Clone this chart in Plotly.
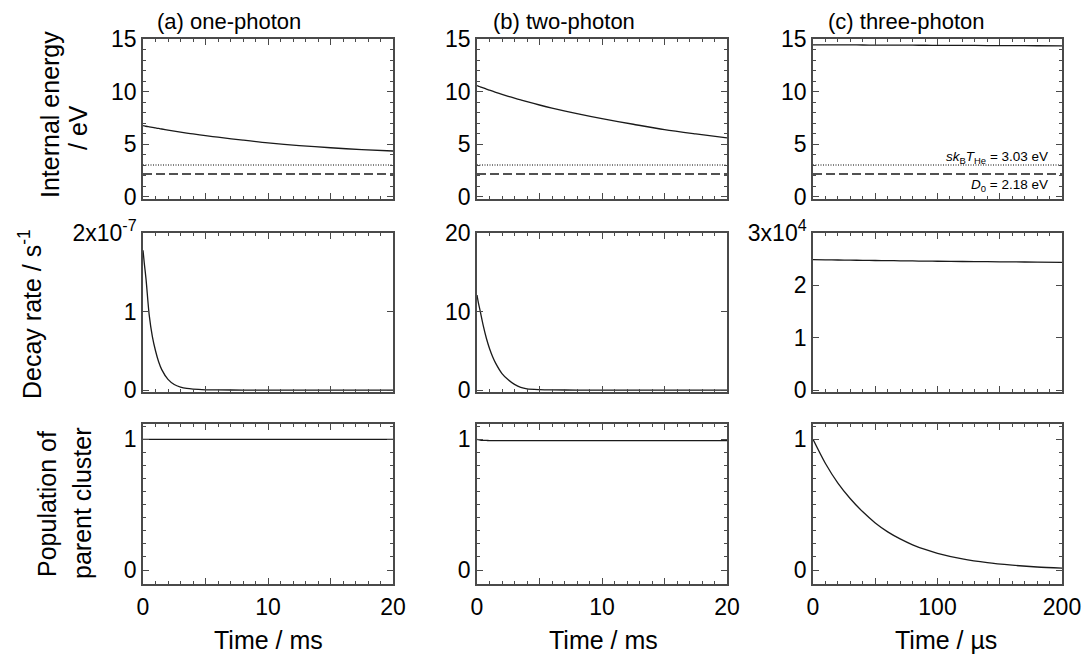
import plotly.graph_objects as go

# ---------------- data ----------------
T_MS = [0, 0.1, 0.25, 0.5, 0.75, 1, 1.25, 1.5, 2, 2.5, 3, 3.5, 4, 5, 6, 8, 10, 12.5, 15, 17.5, 20]
T_US = [0, 10, 20, 30, 40, 50, 60, 70, 80, 90, 100, 120, 140, 160, 180, 200]

ENERGY_1P = [6.77, 6.75, 6.71, 6.66, 6.61, 6.55, 6.50, 6.45, 6.34, 6.24, 6.15, 6.06, 5.98,
             5.82, 5.67, 5.39, 5.13, 4.88, 4.67, 4.49, 4.36]
ENERGY_2P = [10.57, 10.53, 10.46, 10.35, 10.24, 10.14, 10.04, 9.94, 9.75, 9.56, 9.38, 9.21, 9.04,
             8.73, 8.44, 7.91, 7.43, 6.90, 6.39, 5.98, 5.60]
ENERGY_3P = [14.45, 14.445, 14.44, 14.435, 14.43, 14.425, 14.42, 14.415, 14.41, 14.405, 14.40,
             14.39, 14.38, 14.37, 14.36, 14.35]

RATE_1P = [1.78, 1.62, 1.40, 0.95, 0.68, 0.50, 0.36, 0.26, 0.135, 0.07, 0.038, 0.02, 0.011,
           0.003, 0.001, 0.0, 0.0, 0.0, 0.0, 0.0, 0.0]
RATE_2P = [12.1, 11.2, 10.1, 8.2, 6.6, 5.3, 4.25, 3.4, 2.1, 1.3, 0.72, 0.33, 0.14,
           0.04, 0.01, 0.001, 0.0, 0.0, 0.0, 0.0, 0.0]
RATE_3P = [2.49, 2.487, 2.484, 2.481, 2.478, 2.475, 2.472, 2.469, 2.466, 2.463, 2.46,
           2.456, 2.452, 2.448, 2.444, 2.44]

POP_1P = [1.0] * len(T_MS)
POP_2P = [1.0, 0.997, 0.994, 0.992, 0.991, 0.99, 0.99, 0.99, 0.99, 0.99, 0.99, 0.99, 0.99,
          0.99, 0.99, 0.99, 0.99, 0.99, 0.99, 0.99, 0.99]
POP_3P = [1.0, 0.815, 0.665, 0.545, 0.445, 0.36, 0.292, 0.238, 0.193, 0.157, 0.128,
          0.085, 0.056, 0.037, 0.023, 0.014]

SKT_HE = 3.03   # eV, dotted line
D0 = 2.18       # eV, dashed line

COL_TITLES = ["(a) one-photon", "(b) two-photon", "(c) three-photon"]
X_TITLES = ["Time / ms", "Time / ms", "Time / µs"]
RATE_TOP_LABELS = ["2x10<sup>-7</sup>", "20", "3x10<sup>4</sup>"]
RATE_TICKS = [[0, 1, 2], [0, 10, 20], [0, 1, 2, 3]]

# ---------------- layout geometry ----------------
# page body adds an 8px margin; the figure is sized so the page fits the window
OFF = 8
W, H = 1090 - 2 * OFF, 662 - 2 * OFF
FONT = "Liberation Sans, Arial, sans-serif"
FRAME = "#4a4a4a"
LINE = "#1a1a1a"

col_px = [(143, 393), (477, 727), (813, 1062)]
row_px = [(39, 199), (233, 392), (424, 584)]


def fx(px):
    return (px - OFF) / W


def fy(py):
    return 1 - (py - OFF) / H


def xd(a, b):
    return [fx(a), fx(b)]


def yd(top, bottom):
    return [fy(bottom), fy(top)]


fig = go.Figure()

times = [T_MS, T_MS, T_US]
energies = [ENERGY_1P, ENERGY_2P, ENERGY_3P]
rates = [RATE_1P, RATE_2P, RATE_3P]
pops = [POP_1P, POP_2P, POP_3P]

base_axis = dict(
    showline=True, linecolor=FRAME, linewidth=1.5, mirror="allticks",
    ticks="inside", ticklen=6, tickwidth=1.2, tickcolor=FRAME,
    showgrid=False, zeroline=False, automargin=False,
    tickfont=dict(family=FONT, size=23, color="black"),
)


def minor(d):
    return dict(ticks="inside", ticklen=3, tickcolor=FRAME, tickwidth=1,
                tickmode="linear", tick0=0, dtick=d, showgrid=False)


layout_axes = {}
for r in range(3):
    for c in range(3):
        i = r * 3 + c + 1
        xn = "x" if i == 1 else f"x{i}"
        yn = "y" if i == 1 else f"y{i}"
        t = times[c]
        if r == 0:
            ydata = energies[c]
        elif r == 1:
            ydata = rates[c]
        else:
            ydata = pops[c]
        fig.add_trace(go.Scatter(x=t, y=ydata, mode="lines", xaxis=xn, yaxis=yn,
                                 line=dict(color=LINE, width=1.3, shape="spline",
                                           smoothing=0.8),
                                 showlegend=False, hoverinfo="skip"))
        if r == 0:
            fig.add_trace(go.Scatter(x=[t[0], t[-1]], y=[SKT_HE, SKT_HE], mode="lines",
                                     xaxis=xn, yaxis=yn, showlegend=False, hoverinfo="skip",
                                     line=dict(color="#000000", width=1, dash="1px,1.5px")))
            fig.add_trace(go.Scatter(x=[t[0], t[-1]], y=[D0, D0], mode="lines",
                                     xaxis=xn, yaxis=yn, showlegend=False, hoverinfo="skip",
                                     line=dict(color=LINE, width=1.5, dash="9px,4px")))

        # x axis
        xa = dict(base_axis)
        xa.update(domain=xd(*col_px[c]), anchor=yn, range=[t[0], t[-1]],
                  tickmode="linear", tick0=0)
        if c < 2:
            xa.update(dtick=5, minor=minor(1))
        else:
            xa.update(dtick=50, minor=minor(10))
        if r == 2:
            xa.update(showticklabels=True, ticklabelstep=2, ticklabelstandoff=2)
        else:
            xa.update(showticklabels=False)

        # y axis
        ya = dict(base_axis)
        ya.update(domain=yd(*row_px[r]), anchor=xn)
        if r == 0:
            ya.update(range=[-0.2, 15], tickmode="array", tickvals=[0, 5, 10, 15],
                      ticktext=["0", "5", "10", "15"], minor=minor(1))
        elif r == 1:
            tv = RATE_TICKS[c]
            tt = [str(v) for v in tv[:-1]] + [RATE_TOP_LABELS[c]]
            ya.update(range=[-0.0125 * tv[-1], tv[-1]], tickmode="array",
                      tickvals=tv, ticktext=tt)
        else:
            ya.update(range=[-0.107, 1.117], tickmode="array", tickvals=[0, 1],
                      ticktext=["0", "1"], minor=minor(0.1))
        layout_axes["xaxis" if i == 1 else f"xaxis{i}"] = xa
        layout_axes["yaxis" if i == 1 else f"yaxis{i}"] = ya

fig.update_layout(**layout_axes)

ann = []


def add_text(text, px, py, size, angle=0, xanchor="center", yanchor="middle"):
    ann.append(dict(text=text, x=fx(px), y=fy(py), xref="paper", yref="paper",
                    showarrow=False, textangle=angle, xanchor=xanchor, yanchor=yanchor,
                    borderpad=0,
                    font=dict(family=FONT, size=size, color="black")))


# column titles (anchored at the top of the figure so they are not clipped)
for title, cx in zip(COL_TITLES, [229, 564, 906]):
    add_text(title, cx, OFF, 22, yanchor="top")

# x titles
for title, cx in zip(X_TITLES, [268, 603, 946]):
    add_text(title, cx, 640, 25)

# y titles
add_text("Internal energy", 50, 115, 25, angle=-90)
add_text("/ eV", 78, 128, 25, angle=-90)
add_text("Decay rate / s<sup>-1</sup>", 30, 314, 25, angle=-90)
add_text("Population of", 47, 504, 25, angle=-90)
add_text("parent cluster", 82, 504, 25, angle=-90)

# reference-line labels in panel (c)
add_text("<i>sk</i><sub>B</sub><i>T</i><sub>He</sub> = 3.03 eV", 1049, 157, 13.5,
         xanchor="right")
add_text("<i>D</i><sub>0</sub> = 2.18 eV", 1049, 185, 13.5, xanchor="right")

fig.update_layout(
    template="none",
    annotations=ann,
    width=W, height=H,
    margin=dict(l=0, r=0, t=0, b=0, pad=0),
    paper_bgcolor="white", plot_bgcolor="white",
    showlegend=False,
    font=dict(family=FONT, color="black"),
)

fig.write_html("out.html")
